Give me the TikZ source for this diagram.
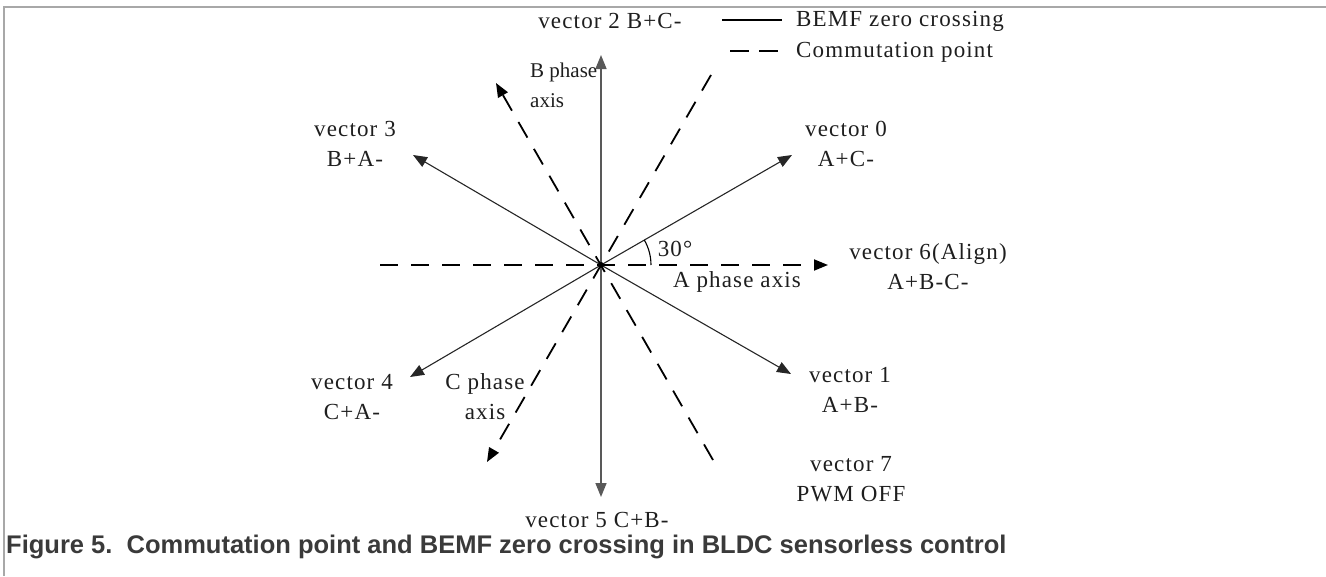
\documentclass[tikz,border=0pt]{standalone}
\usepackage{fontspec}
\setmainfont{Liberation Serif}
\newfontfamily\capfont{Liberation Sans}
\usetikzlibrary{arrows.meta}
\definecolor{frame}{HTML}{A8A8A8}
\definecolor{captxt}{HTML}{3A3A3A}
\definecolor{labtxt}{HTML}{1E1E1E}
\begin{document}
\begin{tikzpicture}[x=1pt,y=-1pt,
  lab/.style={font=\fontsize{23}{30}\selectfont\addfontfeature{LetterSpace=5},
              text=labtxt, align=center, inner sep=0pt},
  tip/.style={-{Triangle[length=14pt,width=11pt]}},
  solidvec/.style={line width=1.1pt, draw=black!85, tip},
  dashline/.style={line width=1.8pt, draw=black, dash pattern=on 18pt off 13pt}]
\useasboundingbox (0,0) rectangle (1326,576);
% frame
\draw[frame, line width=2pt] (4,576) -- (4,7) -- (1326,7);
% centre and end points
\coordinate (O) at (601,265);
\coordinate (t0) at (792,155);
\coordinate (t3) at (413,155);
\coordinate (t1) at (791,374);
\coordinate (t4) at (410,377);
\coordinate (t2) at (601,55);
\coordinate (t5) at (601,497);
\coordinate (aL) at (380,265);
\coordinate (aR) at (828,265);
\coordinate (bT) at (496,83);
\coordinate (bE) at (713,460);
\coordinate (cT) at (487,462);
\coordinate (cE) at (711,75);
% commutation (dashed) lines
\draw[dashline, tip] (aL) -- (aR);
\draw[dashline, tip] (bE) -- (bT);
\draw[dashline, tip] (cE) -- (cT);
% BEMF vectors
\draw[solidvec] (O) -- (t0);
\draw[solidvec] (O) -- (t3);
\draw[solidvec] (O) -- (t1);
\draw[solidvec] (O) -- (t4);
\draw[solidvec, draw=black!65, line width=1.5pt] (O) -- (t2);
\draw[solidvec, draw=black!65, line width=1.5pt] (O) -- (t5);
\fill (O) circle (3pt);
% 30 degree arc
\draw[line width=1.1pt] (651,265) arc[start angle=0, end angle=-30, radius=50];
% legend
\coordinate (l1a) at (722,20);
\coordinate (l1b) at (782,20);
\coordinate (l2a) at (730,51);
\coordinate (l2b) at (779,51);
\draw[line width=1.3pt] (l1a) -- (l1b);
\draw[line width=1.8pt, dash pattern=on 19pt off 10pt] (l2a) -- (l2b);
\node[lab, anchor=west] (leg1) at (796,21) {BEMF zero crossing};
\node[lab, anchor=west] (leg2) at (796,52) {Commutation point};
% labels
\node[lab] (v2) at (610,21) {vector 2 B+C-};
\node[lab, align=left, anchor=west, font=\fontsize{21}{30}\selectfont] (bax) at (530,85) {B phase\\axis};
\node[lab] (v3) at (355,144) {vector 3\\B+A-};
\node[lab] (v0) at (846,144) {vector 0\\A+C-};
\node[lab] (deg) at (675,249) {30°};
\node[lab] (v6) at (928,267) {vector 6(Align)\\A+B-C-};
\node[lab] (aax) at (737,282) {A phase axis};
\node[lab] (v1) at (850,390) {vector 1\\A+B-};
\node[lab] (v4) at (352,397) {vector 4\\C+A-};
\node[lab] (cax) at (485,397) {C phase\\axis};
\node[lab] (v7) at (851,479) {vector 7\\PWM OFF};
\node[lab] (v5) at (597,520) {vector 5 C+B-};
% caption
\node[anchor=west, inner sep=0pt, text=captxt,
      font=\capfont\bfseries\fontsize{25.5}{28}\selectfont] (cap) at (6,547)
  {Figure 5.\ \ Commutation point and BEMF zero crossing in BLDC sensorless control};
\end{tikzpicture}
\end{document}
